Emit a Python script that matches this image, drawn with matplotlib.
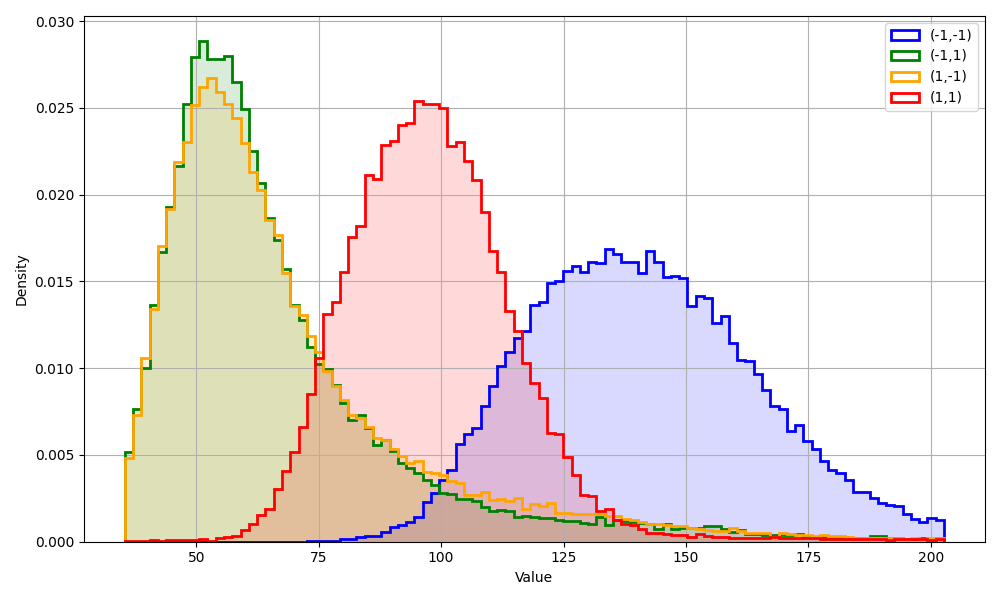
import numpy as np
import matplotlib
matplotlib.use('Agg')
import matplotlib.pyplot as plt

# shared bin range (99 bins)
x_min = 35.4
x_max = 202.7
n_bins = 99

labels = ['(-1,-1)', '(-1,1)', '(1,-1)', '(1,1)']
colors = ['blue', 'green', 'orange', 'red']

# density per bin
dens_mm = [0.0] * 22 + [
    0.00003, 0.00005, 0.00005, 0.00005, 0.00013, 0.00013, 0.00025, 0.00033, 0.00033, 0.00058,
    0.00083, 0.00096, 0.00115, 0.0014, 0.00227, 0.00283, 0.00356, 0.00413, 0.00562, 0.00619,
    0.00654, 0.00783, 0.009, 0.0101, 0.01092, 0.01173, 0.01217, 0.01363, 0.01384, 0.01493,
    0.01502, 0.01561, 0.01588, 0.01552, 0.01613, 0.01607, 0.01684, 0.01657, 0.01613, 0.01613,
    0.01546, 0.01676, 0.01613, 0.01527, 0.01533, 0.01517, 0.01358, 0.01418, 0.01402, 0.01259,
    0.01303, 0.01146, 0.0105, 0.0104, 0.00969, 0.00877, 0.00782, 0.00764, 0.00638, 0.00672,
    0.0058, 0.00534, 0.00466, 0.00414, 0.00395, 0.00356, 0.00289, 0.00284, 0.00251, 0.00222,
    0.00213, 0.00207, 0.00161, 0.0013, 0.00113, 0.00136, 0.00126]

dens_mp = [
    0.00516, 0.00765, 0.0100, 0.01366, 0.01667, 0.01926, 0.02165, 0.0252, 0.02796, 0.02885,
    0.02782, 0.02782, 0.0280, 0.0265, 0.02496, 0.02251, 0.02066, 0.01864, 0.01741, 0.0157,
    0.01366, 0.01278, 0.01123, 0.01025, 0.00995, 0.00904, 0.00798, 0.00702, 0.00731, 0.00654,
    0.00558, 0.00587, 0.00525, 0.00456, 0.00423, 0.00394, 0.00356, 0.00327, 0.00283, 0.00275,
    0.00244, 0.00244, 0.00237, 0.00202, 0.00179, 0.00183, 0.00179, 0.0014, 0.00148, 0.0014,
    0.00135, 0.00138, 0.00125, 0.00121, 0.00121, 0.00109, 0.00103, 0.00144, 0.00096, 0.00125,
    0.00119, 0.00113, 0.00109, 0.00105, 0.00071, 0.001, 0.00075, 0.0008, 0.00081, 0.00081,
    0.00088, 0.00088, 0.00075, 0.00058, 0.00065, 0.00042, 0.00042, 0.00036, 0.00036, 0.00036,
    0.00038, 0.00042, 0.00027, 0.00027, 0.00029, 0.00019, 0.00029, 0.00019, 0.00019, 0.00019,
    0.00031, 0.00031, 0.00019, 0.00019, 0.00017, 0.00017, 0.00019, 0.00017, 0.00023]

dens_pm = [
    0.00482, 0.0073, 0.0106, 0.0134, 0.01706, 0.0192, 0.0219, 0.02305, 0.02516, 0.0262,
    0.02675, 0.02593, 0.0252, 0.02442, 0.02296, 0.0213, 0.02027, 0.01854, 0.01765, 0.01547,
    0.01356, 0.01307, 0.01183, 0.01096, 0.00985, 0.009, 0.00817, 0.00731, 0.00712, 0.00663,
    0.00596, 0.00587, 0.00533, 0.00494, 0.00452, 0.00465, 0.00404, 0.00398, 0.00385, 0.00352,
    0.00337, 0.0027, 0.0027, 0.00285, 0.00242, 0.00248, 0.00235, 0.00253, 0.00188, 0.00216,
    0.00208, 0.00222, 0.00166, 0.00163, 0.00157, 0.00157, 0.0016, 0.00157, 0.00151, 0.00147,
    0.00132, 0.00123, 0.00113, 0.00105, 0.001, 0.00094, 0.0009, 0.00088, 0.0008, 0.00075,
    0.00065, 0.00061, 0.0006, 0.00081, 0.00061, 0.00052, 0.00052, 0.00052, 0.00029, 0.00052,
    0.00046, 0.00038, 0.00038, 0.00033, 0.00036, 0.00033, 0.00033, 0.00027, 0.00023, 0.00023,
    0.00023, 0.00023, 0.00023, 0.00023, 0.00015, 0.00023, 0.00017, 0.00023, 0.00019]

dens_pp = [
    0.00002, 0.00002, 0.00002, 0.00008, 0.00002, 0.0001, 0.00008, 0.00012, 0.00008, 0.00015,
    0.00006, 0.0002, 0.00029, 0.00035, 0.00065, 0.00102, 0.00155, 0.0019, 0.00305, 0.00405,
    0.00516, 0.0066, 0.0085, 0.0106, 0.01312, 0.01381, 0.01554, 0.01754, 0.01821, 0.02112,
    0.02092, 0.02288, 0.02312, 0.024, 0.02413, 0.02538, 0.02525, 0.02525, 0.025, 0.02283,
    0.02302, 0.02196, 0.02083, 0.019, 0.01677, 0.01552, 0.01327, 0.01212, 0.01029, 0.00917,
    0.00827, 0.00625, 0.00619, 0.0049, 0.00385, 0.00269, 0.00262, 0.00176, 0.00186, 0.00128,
    0.001, 0.00094, 0.00075, 0.00052, 0.00052, 0.00042, 0.00036, 0.00038, 0.00029, 0.00042,
    0.00033, 0.00029, 0.00029, 0.00023, 0.00019, 0.00019, 0.00019, 0.00019, 0.00027, 0.00019,
    0.00019, 0.00019, 0.00019, 0.00019, 0.00015, 0.00013, 0.00017, 0.00013, 0.00015, 0.00015,
    0.00013, 0.00013, 0.00012, 0.00013, 0.00015, 0.00013, 0.00015, 0.00012, 0.00013]

edges = np.linspace(x_min, x_max, n_bins + 1)
series = [dens_mm, dens_mp, dens_pm, dens_pp]

fig, ax = plt.subplots(figsize=(10, 6), dpi=100)

for vals, c, lab in zip(series, colors, labels):
    # light fill under the outline
    ax.hist(edges[:-1], bins=edges, weights=vals, histtype='stepfilled',
            color=c, alpha=0.15)
    ax.hist(edges[:-1], bins=edges, weights=vals, histtype='step',
            color=c, linewidth=2, label=lab)

ax.set_xlabel('Value')
ax.set_ylabel('Density')
ax.grid(True)
ax.legend(loc='upper right')

plt.tight_layout()
plt.savefig('out.png')
